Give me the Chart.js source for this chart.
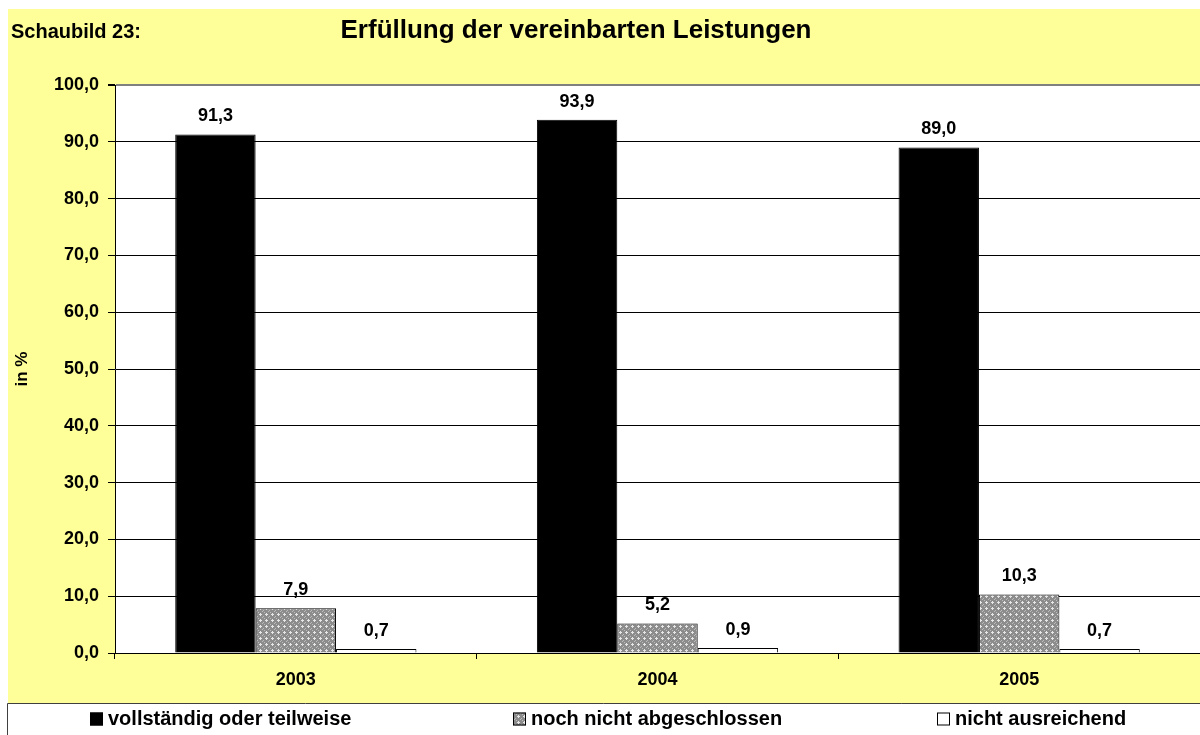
<!DOCTYPE html>
<html>
<head>
<meta charset="utf-8">
<script src="https://cdn.jsdelivr.net/npm/chart.js@4/dist/chart.umd.min.js"></script>
<style>
  html, body { margin: 0; padding: 0; background: #ffffff; }
  #wrap { width: 1200px; height: 735px; position: relative; }
</style>
</head>
<body>
<div id="wrap"><canvas id="c" width="1200" height="735"></canvas></div>
<script>
// ---- data ----
const categories = ['2003', '2004', '2005'];
const seriesNames = ['vollständig oder teilweise', 'noch nicht abgeschlossen', 'nicht ausreichend'];
const valuesVollstaendig = [91.3, 93.9, 89.0];
const valuesNochNicht = [7.9, 5.2, 10.3];
const valuesNichtAusreichend = [0.7, 0.9, 0.7];
const yTickValues = [0, 10, 20, 30, 40, 50, 60, 70, 80, 90, 100];
const chartTitle = 'Erfüllung der vereinbarten Leistungen';
const chartLabel = 'Schaubild 23:';
const yAxisTitle = 'in %';

const FONT = '"Liberation Sans", Arial, sans-serif';
const fmt = v => v.toFixed(1).replace('.', ',');

// crosshatch pattern for the grey series
function makePattern() {
  const p = document.createElement('canvas');
  p.width = 6; p.height = 6;
  const g = p.getContext('2d');
  g.fillStyle = '#8c8c8c';
  g.fillRect(0, 0, 6, 6);
  g.fillStyle = '#e6e6e6';
  g.fillRect(2, 1, 1, 3);
  g.fillRect(1, 2, 3, 1);
  g.fillStyle = '#bdbdbd';
  g.fillRect(5, 4, 1, 1);
  g.fillRect(4, 5, 1, 1);
  g.fillRect(0, 0, 1, 1);
  return p.getContext('2d').createPattern(p, 'repeat');
}
const greyPattern = makePattern();
const fills = ['#000000', greyPattern, '#ffffff'];

const LEGEND_H = 32;

const backgroundPlugin = {
  id: 'bg',
  beforeDraw(chart) {
    const ctx = chart.ctx;
    const W = chart.width, H = chart.height;
    const legTop = H - LEGEND_H;
    ctx.save();
    ctx.fillStyle = '#ffffff';
    ctx.fillRect(0, 0, W, H);
    ctx.fillStyle = '#FFFF99';
    ctx.fillRect(8, 9, W - 8, legTop - 9);
    const a = chart.chartArea;
    ctx.fillStyle = '#ffffff';
    ctx.fillRect(a.left, a.top, a.right - a.left, a.bottom - a.top);
    // legend box
    ctx.fillStyle = '#ffffff';
    ctx.fillRect(7, legTop, W - 7, LEGEND_H);
    ctx.strokeStyle = '#404040';
    ctx.lineWidth = 1;
    ctx.beginPath();
    ctx.moveTo(7.5, H);
    ctx.lineTo(7.5, legTop + 0.5);
    ctx.lineTo(W, legTop + 0.5);
    ctx.stroke();
    // titles
    ctx.fillStyle = '#000';
    ctx.textBaseline = 'middle';
    ctx.textAlign = 'left';
    ctx.font = 'bold 20px ' + FONT;
    ctx.fillText(chartLabel, 11, 32);
    ctx.textAlign = 'center';
    ctx.font = 'bold 26px ' + FONT;
    ctx.fillText(chartTitle, 576, 31);
    ctx.restore();
  },
  afterDatasetsDraw(chart) {
    const ctx = chart.ctx;
    ctx.save();
    ctx.fillStyle = '#000';
    ctx.font = 'bold 18px ' + FONT;
    ctx.textAlign = 'center';
    ctx.textBaseline = 'middle';
    chart.data.datasets.forEach((ds, i) => {
      const meta = chart.getDatasetMeta(i);
      meta.data.forEach((bar, j) => {
        ctx.fillText(fmt(ds.data[j]), bar.x, bar.y - 18);
      });
    });
    ctx.restore();
  },
  afterDraw(chart) {
    const ctx = chart.ctx;
    const H = chart.height;
    const cy = H - LEGEND_H / 2 + 0.5;
    const starts = [90, 513, 937];
    ctx.save();
    ctx.font = 'bold 20px ' + FONT;
    ctx.textBaseline = 'middle';
    ctx.textAlign = 'left';
    chart.data.datasets.forEach((ds, i) => {
      const x = starts[i];
      ctx.fillStyle = fills[i];
      ctx.fillRect(x, cy - 7, 13, 13);
      ctx.strokeStyle = '#000';
      ctx.lineWidth = 1;
      ctx.strokeRect(x + 0.5, cy - 6.5, 12, 12);
      ctx.fillStyle = '#000';
      ctx.fillText(ds.label, x + 18, cy);
    });
    ctx.restore();
  }
};

new Chart(document.getElementById('c'), {
  type: 'bar',
  data: {
    labels: categories,
    datasets: [
      { label: seriesNames[0], data: valuesVollstaendig, backgroundColor: fills[0], borderColor: '#000', borderWidth: 1 },
      { label: seriesNames[1], data: valuesNochNicht, backgroundColor: fills[1], borderColor: '#000', borderWidth: 1 },
      { label: seriesNames[2], data: valuesNichtAusreichend, backgroundColor: fills[2], borderColor: '#000', borderWidth: 1 }
    ]
  },
  options: {
    responsive: false,
    animation: false,
    devicePixelRatio: 1,
    layout: { padding: { top: 85, bottom: LEGEND_H, left: 0, right: 0 } },
    datasets: { bar: { categoryPercentage: 0.667, barPercentage: 1.0, borderSkipped: 'bottom' } },
    plugins: {
      legend: { display: false },
      title: { display: false },
      tooltip: { enabled: false }
    },
    scales: {
      x: {
        type: 'category',
        offset: true,
        grid: { display: true, drawOnChartArea: false, drawTicks: true, tickLength: 6, color: '#000', offset: true },
        border: { display: true, color: '#000', width: 1 },
        ticks: { color: '#000', font: { family: FONT, size: 18, weight: 'bold' }, padding: 10, maxRotation: 0 },
        afterFit(s) { s.height = 50; }
      },
      y: {
        min: 0,
        max: 100,
        afterBuildTicks(s) { s.ticks = yTickValues.map(v => ({ value: v })); },
        ticks: {
          color: '#000',
          font: { family: FONT, size: 18, weight: 'bold' },
          padding: 9,
          callback: v => fmt(v)
        },
        grid: {
          color: c => (c.tick && c.tick.value === 100) ? '#808080' : '#000',
          lineWidth: c => (c.tick && c.tick.value === 100) ? 2 : 1,
          tickColor: '#000',
          tickLength: 7,
          drawTicks: true
        },
        border: { display: true, color: '#000', width: 1 },
        title: {
          display: true,
          text: yAxisTitle,
          color: '#000',
          font: { family: FONT, size: 17, weight: 'bold' },
          padding: { top: 12, bottom: 0 }
        },
        afterFit(s) { s.width = 115; }
      }
    }
  },
  plugins: [backgroundPlugin]
});
</script>
</body>
</html>
